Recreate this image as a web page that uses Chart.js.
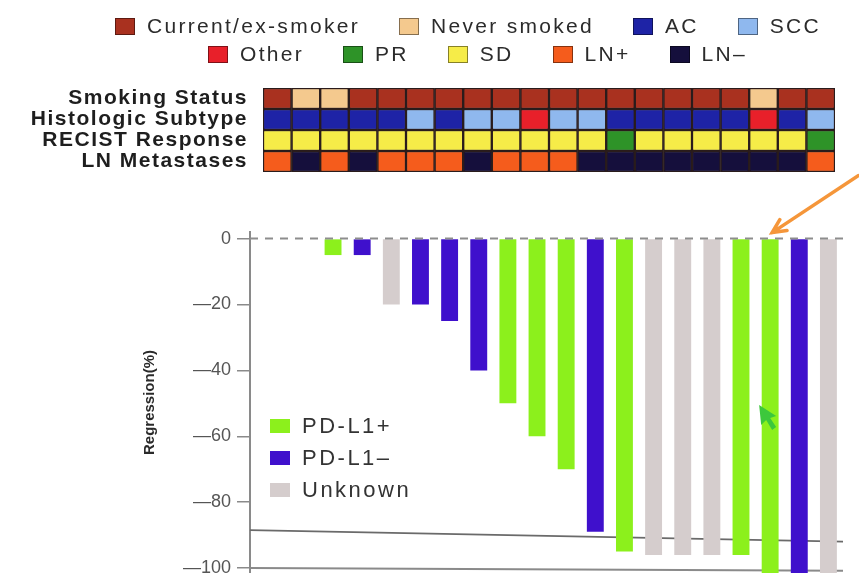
<!DOCTYPE html>
<html>
<head>
<meta charset="utf-8">
<script src="https://cdn.jsdelivr.net/npm/chart.js@4.4.0/dist/chart.umd.min.js"></script>
<style>
  body { margin: 0; background: #fff; }
  #wrap { position: relative; width: 859px; height: 573px; overflow: hidden; background: #fff; }
  canvas { position: absolute; left: 0; top: 0; }
  .legend-row {
    position: absolute; display: flex; align-items: center; gap: 39px;
    font: 21px "Liberation Sans", Arial, sans-serif; letter-spacing: 2.3px;
    color: #2b2b2b; white-space: nowrap;
  }
  .legend-row .item, .pd-legend .item { display: flex; align-items: center; }
  .swatch { width: 20px; height: 17px; box-sizing: border-box; border: 1px solid rgba(0,0,0,0.45); margin-right: 12px; }
  .pd-legend {
    position: absolute; left: 270px; top: 410px;
    font: 22px "Liberation Sans", Arial, sans-serif; letter-spacing: 2.5px; color: #333;
  }
  .pd-legend .item { height: 32px; }
  .pd-legend .swatch { width: 20px; height: 14px; border: none; }
</style>
</head>
<body>
<div id="wrap">
  <canvas id="waterfall-chart" width="859" height="573"></canvas>
  <canvas id="heatmap-chart" width="859" height="185"></canvas>
  <div class="legend-row" id="legend-row-1" style="left:115px; top:14px;"></div>
  <div class="legend-row" id="legend-row-2" style="left:208px; top:42px;"></div>
  <div class="pd-legend" id="pd-legend"></div>
</div>
<script>
const patientIds = [1, 2, 3, 4, 5, 6, 7, 8, 9, 10, 11, 12, 13, 14, 15, 16, 17, 18, 19, 20];

// tumour regression per patient (%), waterfall order
const regression = [0, 0, -5, -5, -20, -20, -25, -40, -50, -60, -70, -89, -95, -96, -96, -96, -96, -102, -102, -102];
const pdl1Status = [
  "Unknown", "Unknown", "PD-L1+", "PD-L1–", "Unknown", "PD-L1–", "PD-L1–", "PD-L1–", "PD-L1+", "PD-L1+",
  "PD-L1+", "PD-L1–", "PD-L1+", "Unknown", "Unknown", "Unknown", "PD-L1+", "PD-L1+", "PD-L1–", "Unknown",
];

const smokingStatus = [
  "Current/ex-smoker", "Never smoked", "Never smoked", "Current/ex-smoker", "Current/ex-smoker",
  "Current/ex-smoker", "Current/ex-smoker", "Current/ex-smoker", "Current/ex-smoker", "Current/ex-smoker",
  "Current/ex-smoker", "Current/ex-smoker", "Current/ex-smoker", "Current/ex-smoker", "Current/ex-smoker",
  "Current/ex-smoker", "Current/ex-smoker", "Never smoked", "Current/ex-smoker", "Current/ex-smoker",
];
const histologicSubtype = [
  "AC", "AC", "AC", "AC", "AC", "SCC", "AC", "SCC", "SCC", "Other",
  "SCC", "SCC", "AC", "AC", "AC", "AC", "AC", "Other", "AC", "SCC",
];
const recistResponse = [
  "SD", "SD", "SD", "SD", "SD", "SD", "SD", "SD", "SD", "SD",
  "SD", "SD", "PR", "SD", "SD", "SD", "SD", "SD", "SD", "PR",
];
const lnMetastases = [
  "LN+", "LN–", "LN+", "LN–", "LN+", "LN+", "LN+", "LN–", "LN+", "LN+",
  "LN+", "LN–", "LN–", "LN–", "LN–", "LN–", "LN–", "LN–", "LN–", "LN+",
];

const rowLabels = ["Smoking Status", "Histologic Subtype", "RECIST Response", "LN Metastases"];
const legendRows = [
  ["Current/ex-smoker", "Never smoked", "AC", "SCC"],
  ["Other", "PR", "SD", "LN+", "LN–"],
];
const pdl1Labels = ["PD-L1+", "PD-L1–", "Unknown"];

const yTicks = [0, -20, -40, -60, -80, -100];
const thresholdLine = [-88.5, -92];
const floorLine = [-100, -100.8];
const arrowPatient = 18;

const categoryColors = {
  "Current/ex-smoker": "#a9311f",
  "Never smoked": "#f4c98e",
  "AC": "#1e23a6",
  "SCC": "#8fb8ee",
  "Other": "#e8202a",
  "PR": "#2e9328",
  "SD": "#f6ec48",
  "LN+": "#f55c1c",
  "LN–": "#150f3c",
};
const pdl1Colors = {
  "PD-L1+": "#8cf01c",
  "PD-L1–": "#3f10cc",
  "Unknown": "#d5cdcd",
};

document.addEventListener("DOMContentLoaded", function () {
  // legends as html
  legendRows.forEach(function (row, i) {
    const rowElem = document.getElementById("legend-row-" + (i + 1));
    row.forEach(function (name) {
      const item = document.createElement("div");
      item.className = "item";
      item.innerHTML = '<span class="swatch" style="background:' + categoryColors[name] + '"></span>';
      item.appendChild(document.createTextNode(name));
      rowElem.appendChild(item);
    });
  });
  const pdLegend = document.getElementById("pd-legend");
  pdl1Labels.forEach(function (name) {
    const item = document.createElement("div");
    item.className = "item";
    item.innerHTML = '<span class="swatch" style="background:' + pdl1Colors[name] + '"></span>';
    item.appendChild(document.createTextNode(name));
    pdLegend.appendChild(item);
  });

  // heatmap rows, bottom row first because the bars are stacked
  const heatRows = [lnMetastases, recistResponse, histologicSubtype, smokingStatus];
  const heatDatasets = heatRows.map(function (row, i) {
    return {
      label: rowLabels[3 - i],
      data: row.map(() => 1),
      backgroundColor: row.map((c) => categoryColors[c]),
      borderColor: "#2a1c1c",
      borderWidth: 1.5,
      borderSkipped: false,
      barPercentage: 1,
      categoryPercentage: 1,
    };
  });

  new Chart(document.getElementById("heatmap-chart").getContext("2d"), {
    type: "bar",
    data: { labels: patientIds, datasets: heatDatasets },
    options: {
      responsive: false,
      animation: false,
      events: [],
      layout: { padding: { left: 0, top: 88, right: 24, bottom: 13 } },
      plugins: { legend: { display: false }, tooltip: { enabled: false } },
      scales: {
        x: { stacked: true, display: false },
        y: {
          stacked: true,
          min: 0,
          max: 4,
          afterBuildTicks: (scale) => {
            scale.ticks = [3.5, 2.5, 1.5, 0.5].map((v) => ({ value: v }));
          },
          afterFit: (scale) => {
            scale.width = 263;
            scale.paddingTop = 0;
            scale.paddingBottom = 0;
          },
          grid: { display: false, drawTicks: false },
          border: { display: false },
          ticks: {
            autoSkip: false,
            padding: 15,
            color: "#1e1e1e",
            font: { family: "'Liberation Sans', Arial, sans-serif", size: 21, weight: "bold" },
            callback: (v) => rowLabels[3 - Math.floor(v)],
          },
        },
      },
    },
    plugins: [
      {
        id: "tracking",
        beforeDraw(chart) {
          chart.ctx.letterSpacing = "1.5px";
        },
      },
    ],
  });

  function lineAcross(chart, values, style) {
    const { ctx, chartArea } = chart;
    const y = chart.scales.y;
    ctx.save();
    ctx.strokeStyle = style.color;
    ctx.lineWidth = style.width;
    ctx.setLineDash(style.dash || []);
    ctx.beginPath();
    ctx.moveTo(chartArea.left, y.getPixelForValue(values[0]));
    ctx.lineTo(chartArea.right, y.getPixelForValue(values[1]));
    ctx.stroke();
    ctx.restore();
  }

  const refLines = {
    id: "refLines",
    beforeDatasetsDraw(chart) {
      lineAcross(chart, thresholdLine, { color: "#6a6a6a", width: 1.8 });
      lineAcross(chart, floorLine, { color: "#8a8a8a", width: 2 });
    },
    afterDatasetsDraw(chart) {
      lineAcross(chart, [0, 0], { color: "#8d8d8d", width: 2, dash: [8, 7] });

      const { ctx } = chart;
      const x = chart.scales.x.getPixelForValue(arrowPatient);
      const y0 = chart.scales.y.getPixelForValue(0);

      // orange arrow pointing at the patient's bar
      const tip = { x: x + 2, y: y0 - 6 };
      const tail = { x: tip.x + 86, y: tip.y - 57 };
      const ang = Math.atan2(tip.y - tail.y, tip.x - tail.x);
      ctx.save();
      ctx.strokeStyle = "#f5963a";
      ctx.lineWidth = 3.5;
      ctx.lineCap = "round";
      ctx.beginPath();
      ctx.moveTo(tail.x, tail.y);
      ctx.lineTo(tip.x, tip.y);
      ctx.moveTo(tip.x - 15 * Math.cos(ang - 0.45), tip.y - 15 * Math.sin(ang - 0.45));
      ctx.lineTo(tip.x, tip.y);
      ctx.lineTo(tip.x - 15 * Math.cos(ang + 0.45), tip.y - 15 * Math.sin(ang + 0.45));
      ctx.stroke();

      // green pointer on the bar
      const p = { x: x - 11, y: chart.scales.y.getPixelForValue(-50.5) };
      ctx.fillStyle = "#3cc83c";
      ctx.beginPath();
      ctx.moveTo(p.x, p.y);
      ctx.lineTo(p.x + 2, p.y + 20);
      ctx.lineTo(p.x + 7, p.y + 15);
      ctx.lineTo(p.x + 13, p.y + 25);
      ctx.lineTo(p.x + 17, p.y + 22);
      ctx.lineTo(p.x + 11, p.y + 13);
      ctx.lineTo(p.x + 17, p.y + 11);
      ctx.closePath();
      ctx.fill();
      ctx.restore();
    },
  };

  new Chart(document.getElementById("waterfall-chart").getContext("2d"), {
    type: "bar",
    data: {
      labels: patientIds,
      datasets: [
        {
          label: "Regression (%)",
          data: regression,
          backgroundColor: pdl1Status.map((s) => pdl1Colors[s]),
          borderWidth: 0,
          barPercentage: 0.58,
          categoryPercentage: 1,
        },
      ],
    },
    options: {
      responsive: false,
      animation: false,
      events: [],
      layout: { padding: { left: 140, top: 232, right: 16, bottom: 0 } },
      plugins: { legend: { display: false }, tooltip: { enabled: false } },
      scales: {
        x: { type: "linear", min: 0.15, max: 20.5, offset: false, display: false },
        y: {
          min: -101.5,
          max: 2,
          afterBuildTicks: (scale) => {
            scale.ticks = yTicks.map((v) => ({ value: v }));
          },
          afterFit: (scale) => {
            scale.width = 110;
            scale.paddingTop = 0;
            scale.paddingBottom = 0;
          },
          title: {
            display: true,
            text: "Regression(%)",
            color: "#2a2a2a",
            padding: { top: 1, bottom: 0 },
            font: { family: "'Liberation Sans', Arial, sans-serif", size: 15, weight: "bold" },
          },
          grid: { drawOnChartArea: false, color: "#8a8a8a", tickLength: 13, lineWidth: 1.5 },
          border: { color: "#8a8a8a", width: 2 },
          ticks: {
            padding: 6,
            color: "#555",
            font: { family: "'Liberation Sans', Arial, sans-serif", size: 18 },
            callback: (v) => (v === 0 ? "0" : "—" + Math.abs(v)),
          },
        },
      },
    },
    plugins: [refLines],
  });
});
</script>
</body>
</html>
